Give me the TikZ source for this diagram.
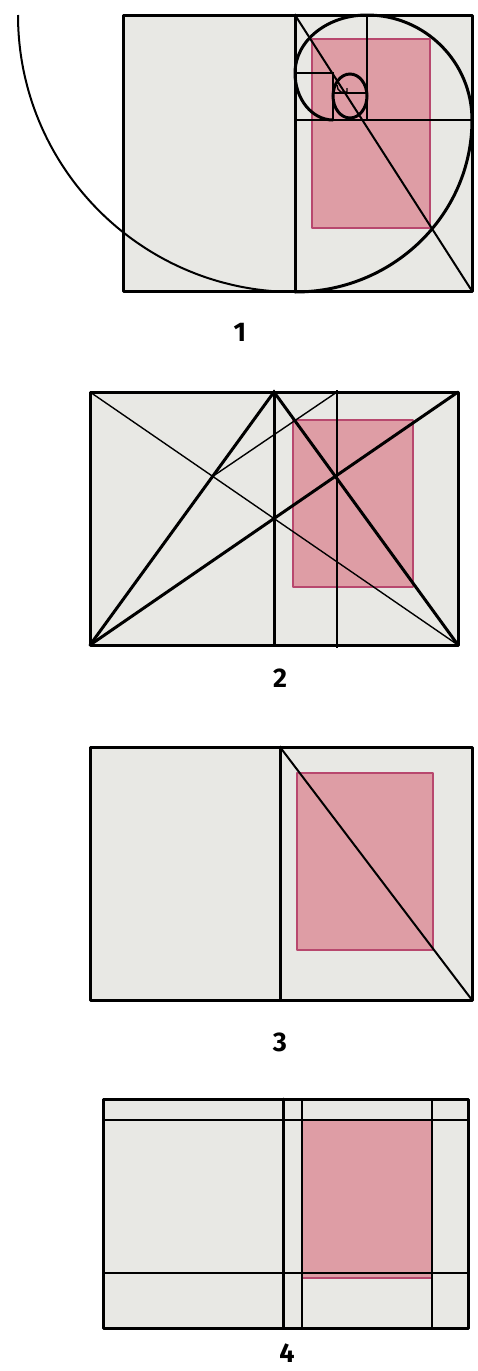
\documentclass[tikz,border=0pt]{standalone}
\usepackage{fontspec}
\setsansfont{Fira Sans}
\usepackage{tikz}
\usetikzlibrary{positioning}
\definecolor{paper}{RGB}{232,232,228}
\definecolor{rose}{RGB}{222,157,165}
\definecolor{roseline}{RGB}{184,72,110}

\begin{document}
\begin{tikzpicture}[x=1pt, y=-1pt,
  sheet/.style={draw, line width=3pt, fill=paper, line join=round},
  block/.style={draw=roseline, line width=1.8pt, fill=rose, line join=round},
  guide/.style={line width=1.4pt},
  mid/.style={line width=2pt},
  heavy/.style={line width=3pt, line cap=round},
  num/.style={inner sep=0pt, font=\sffamily\bfseries\fontsize{27}{27}\selectfont}
]
\useasboundingbox (0,0) rectangle (477,1371);

% 1: golden spiral
\draw[sheet] (123,15) rectangle (472,291);
\fill[block] (312,39) rectangle (430,228);
\draw[heavy] (295,15) -- (295,291);
\draw[guide] (367,15) -- (367,120);
\draw[guide] (295,120) -- (472,120);
\draw[guide] (295,73) -- (333,73) -- (333,120);
\draw[guide] (333,93) -- (367,93);
\draw[mid] (295,15) -- (472,291);
\draw[mid] (18,15) arc[start angle=180, end angle=270, radius=277pt];
\draw[heavy] (295,292) arc[start angle=270, end angle=360, x radius=177pt, y radius=172pt]
  arc[start angle=0, end angle=90, radius=105pt]
  arc[start angle=90, end angle=180, x radius=72pt, y radius=58pt]
  arc[start angle=180, end angle=270, x radius=38pt, y radius=47pt];
\draw[heavy] (350,96) ellipse[x radius=17pt, y radius=22pt];
\draw[guide] (337,85) to[bend right=30] (341,92) -- (347,92) -- (347,88);
\node[num] (lab1) at (240,332) {1};

% 2: diagonals
\coordinate (tl) at (90,392);
\coordinate (tr) at (458,392);
\coordinate (bl) at (90,645);
\coordinate (br) at (458,645);
\coordinate (spine) at (274,392);
\draw[sheet] (tl) rectangle (br);
\fill[block] (293,420) rectangle (413,587);
\draw[heavy] (spine) -- (274,645);
\draw[guide] (337,390) -- (337,648);
\draw[guide] (tl) -- (br);
\draw[heavy] (bl) -- (tr);
\draw[heavy] (bl) -- (spine) -- (br);
\draw[guide] (intersection of tl--br and bl--spine) -- (337,392);
\node[num] (lab2) at (280,678) {2};

% 3: single diagonal
\draw[sheet] (90,747) rectangle (472,1000);
\fill[block] (297,773) rectangle (433,950);
\draw[heavy] (280,747) -- (280,1000);
\draw[mid] (280,747) -- (472,1000);
\node[num] (lab3) at (280,1042) {3};

% 4: grid
\draw[sheet] (103,1099) rectangle (468,1328);
\fill[block] (302,1120) rectangle (432,1278);
\draw[mid] (103,1120) -- (468,1120);
\draw[mid] (103,1273) -- (468,1273);
\draw[heavy] (283,1099) -- (283,1328);
\draw[mid] (302,1099) -- (302,1328);
\draw[mid] (432,1099) -- (432,1328);
\node[num] (lab4) at (287,1353) {4};
\end{tikzpicture}
\end{document}
